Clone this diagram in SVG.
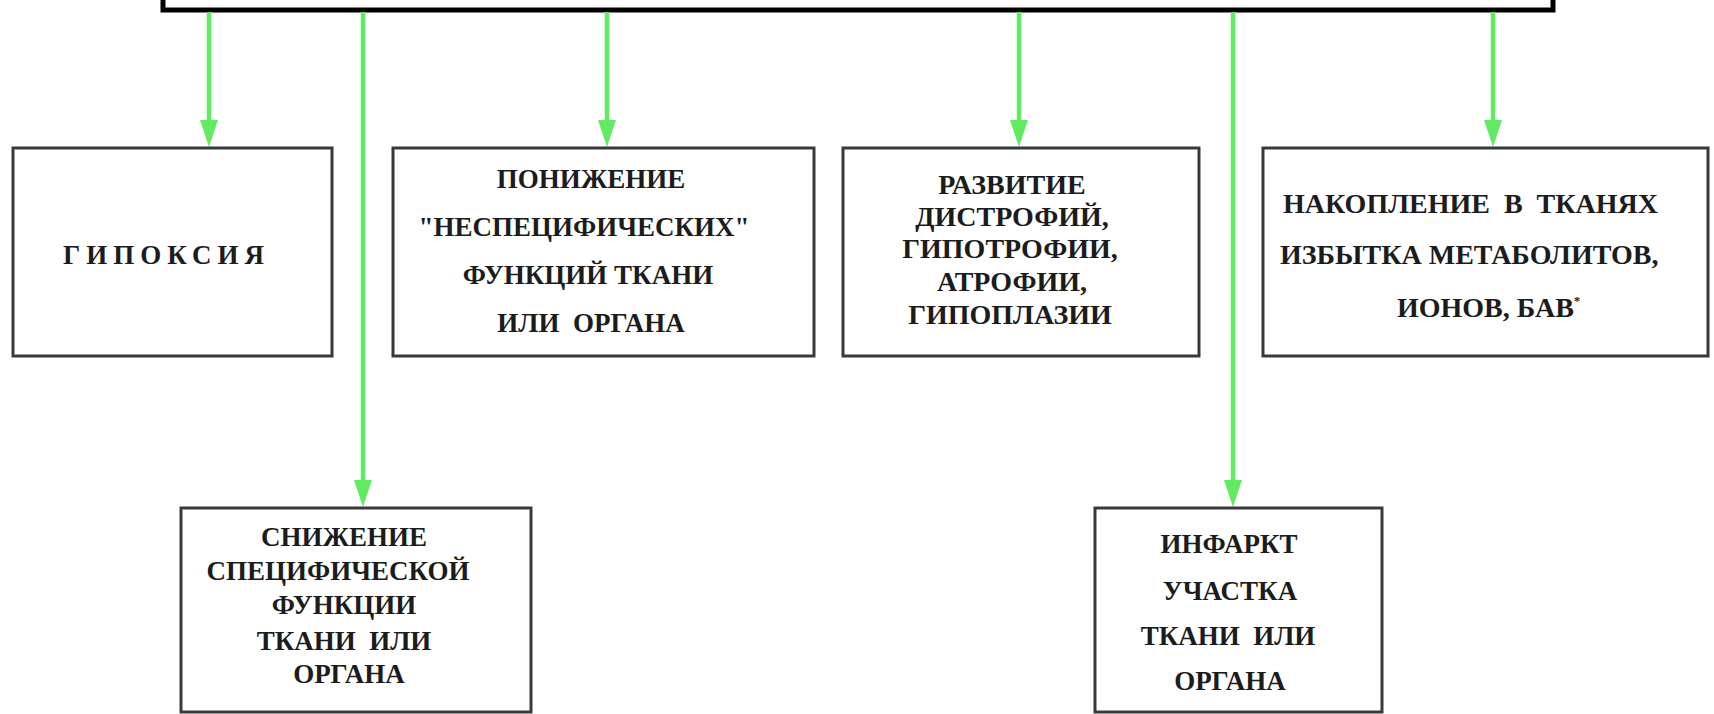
<svg xmlns="http://www.w3.org/2000/svg" width="1714" height="714" viewBox="0 0 1714 714">
<style>
.box{fill:#ffffff;stroke:#3a3a3a;stroke-width:3}
.top{fill:#ffffff;stroke:#000000;stroke-width:5}
.t{font-family:"Liberation Serif","Times New Roman",serif;font-weight:bold;font-size:27px;fill:#1c1c1c;text-anchor:middle}
.b{font-size:28px}
.s{text-anchor:start}
.con{stroke:#63ea63;stroke-width:4.5;fill:none}
</style>
<defs>
<marker id="ah" markerUnits="userSpaceOnUse" markerWidth="27" markerHeight="18" viewBox="0 0 27 18" refX="20" refY="9" orient="auto">
<path d="M0,0 L27,9 L0,18 z" fill="#63ea63"/>
</marker>
</defs>
<rect width="1714" height="714" fill="#ffffff"/>
<g id="source">
<rect class="top" x="163" y="-20" width="1390" height="30"/>
</g>
<g id="connectors">
<line class="con" x1="209" y1="12" x2="209" y2="140" marker-end="url(#ah)"/>
<line class="con" x1="363" y1="12" x2="363" y2="500" marker-end="url(#ah)"/>
<line class="con" x1="607" y1="12" x2="607" y2="140" marker-end="url(#ah)"/>
<line class="con" x1="1019" y1="12" x2="1019" y2="140" marker-end="url(#ah)"/>
<line class="con" x1="1233" y1="12" x2="1233" y2="500" marker-end="url(#ah)"/>
<line class="con" x1="1493" y1="12" x2="1493" y2="140" marker-end="url(#ah)"/>
</g>
<g id="hypoxia">
<rect class="box" x="13" y="148" width="319" height="208"/>
<text class="t s" x="63" y="264" font-size="24" letter-spacing="6">ГИПОКСИЯ</text>
</g>
<g id="nonspecific">
<rect class="box" x="393" y="148" width="421" height="208"/>
<text class="t" x="591" y="188">ПОНИЖЕНИЕ</text>
<text class="t" x="584" y="236">"НЕСПЕЦИФИЧЕСКИХ"</text>
<text class="t" x="588" y="284">ФУНКЦИЙ ТКАНИ</text>
<text class="t" x="591" y="332" xml:space="preserve">ИЛИ  ОРГАНА</text>
</g>
<g id="dystrophy">
<rect class="box" x="843" y="148" width="356" height="208"/>
<text class="t b" x="1012" y="194">РАЗВИТИЕ</text>
<text class="t b" x="1012" y="226">ДИСТРОФИЙ,</text>
<text class="t b" x="1010" y="258">ГИПОТРОФИИ,</text>
<text class="t b" x="1012" y="291">АТРОФИИ,</text>
<text class="t b" x="1010" y="324">ГИПОПЛАЗИИ</text>
</g>
<g id="accumulation">
<rect class="box" x="1263" y="148" width="445" height="208"/>
<text class="t b s" x="1283" y="213" xml:space="preserve">НАКОПЛЕНИЕ  В  ТКАНЯХ</text>
<text class="t b s" x="1280" y="264">ИЗБЫТКА МЕТАБОЛИТОВ,</text>
<text class="t b s" x="1397" y="317">ИОНОВ, БАВ<tspan font-size="13" dy="-12">*</tspan></text>
</g>
<g id="specific">
<rect class="box" x="181" y="508" width="350" height="204"/>
<text class="t" x="344" y="546">СНИЖЕНИЕ</text>
<text class="t" x="338" y="580">СПЕЦИФИЧЕСКОЙ</text>
<text class="t" x="344" y="614">ФУНКЦИИ</text>
<text class="t" x="344" y="650" xml:space="preserve">ТКАНИ  ИЛИ</text>
<text class="t" x="349" y="683">ОРГАНА</text>
</g>
<g id="infarct">
<rect class="box" x="1095" y="508" width="287" height="204"/>
<text class="t" x="1229" y="553">ИНФАРКТ</text>
<text class="t" x="1230" y="600">УЧАСТКА</text>
<text class="t" x="1228" y="645" xml:space="preserve">ТКАНИ  ИЛИ</text>
<text class="t" x="1230" y="690">ОРГАНА</text>
</g>
</svg>
